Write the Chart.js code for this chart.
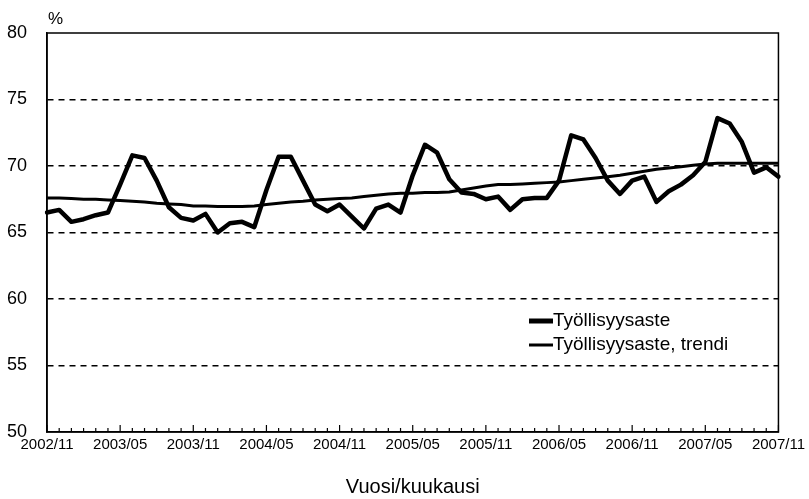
<!DOCTYPE html>
<html>
<head>
<meta charset="utf-8">
<script src="https://cdn.jsdelivr.net/npm/chart.js@4.4.0/dist/chart.umd.min.js"></script>
<style>
html,body{margin:0;padding:0;background:#fff;}
#wrap{width:809px;height:499px;position:relative;}
</style>
</head>
<body>
<div id="wrap"><canvas id="c" width="809" height="499"></canvas></div>
<script>
const months = [
"2002/11","2002/12",
"2003/01","2003/02","2003/03","2003/04","2003/05","2003/06","2003/07","2003/08","2003/09","2003/10","2003/11","2003/12",
"2004/01","2004/02","2004/03","2004/04","2004/05","2004/06","2004/07","2004/08","2004/09","2004/10","2004/11","2004/12",
"2005/01","2005/02","2005/03","2005/04","2005/05","2005/06","2005/07","2005/08","2005/09","2005/10","2005/11","2005/12",
"2006/01","2006/02","2006/03","2006/04","2006/05","2006/06","2006/07","2006/08","2006/09","2006/10","2006/11","2006/12",
"2007/01","2007/02","2007/03","2007/04","2007/05","2007/06","2007/07","2007/08","2007/09","2007/10","2007/11"
];
const employmentRate = [
66.5,66.7,
65.8,66.0,66.3,66.5,68.6,70.8,70.6,68.9,66.9,66.1,65.9,66.4,
65.0,65.7,65.8,65.4,68.2,70.7,70.7,68.9,67.1,66.6,67.1,66.2,
65.3,66.8,67.1,66.5,69.3,71.6,71.0,69.0,68.0,67.9,67.5,67.7,
66.7,67.5,67.6,67.6,68.9,72.3,72.0,70.6,68.9,67.9,68.9,69.2,
67.3,68.1,68.6,69.3,70.3,73.6,73.2,71.8,69.5,69.9,69.2
];
const employmentTrend = [
67.6,67.6,
67.55,67.5,67.5,67.45,67.4,67.35,67.3,67.2,67.15,67.1,67.0,67.0,
66.95,66.95,66.95,67.0,67.1,67.2,67.3,67.35,67.45,67.5,67.55,67.6,
67.7,67.8,67.9,67.95,67.95,68.0,68.0,68.05,68.2,68.35,68.5,68.6,
68.6,68.65,68.7,68.75,68.8,68.9,69.0,69.1,69.2,69.3,69.45,69.6,
69.75,69.85,69.95,70.05,70.15,70.2,70.2,70.2,70.2,70.2,70.2
];
const seriesNames = ["Työllisyysaste","Työllisyysaste, trendi"];
const yTicks = [50,55,60,65,70,75,80];
const labelEvery = 6;

const FONT = "'Liberation Sans', Arial, sans-serif";

const decor = {
  id:'decor',
  afterDraw(chart){
    const {ctx, chartArea:a, scales} = chart;
    const xs = scales.x;
    ctx.save();
    ctx.strokeStyle='#000';
    ctx.lineWidth=1.5;
    ctx.strokeRect(a.left, a.top, a.right-a.left, a.bottom-a.top);
    ctx.lineWidth=1.2;
    for(let i=0;i<months.length;i++){
      const x = xs.getPixelForValue(i);
      const len = (i%labelEvery===0)?7:4;
      ctx.beginPath();
      ctx.moveTo(x, a.bottom);
      ctx.lineTo(x, a.bottom-len);
      ctx.stroke();
    }
    ctx.fillStyle='#000';
    ctx.font = "17px "+FONT;
    ctx.textAlign='left';
    ctx.textBaseline='middle';
    ctx.fillText('%', 48, 19);
    const ds = chart.data.datasets;
    const lx = 529, ys=[321,345];
    ctx.font = "19px "+FONT;
    ds.forEach((d,k)=>{
      ctx.strokeStyle = d.borderColor;
      ctx.lineWidth = k===0?5:3;
      ctx.beginPath();
      ctx.moveTo(lx, ys[k]);
      ctx.lineTo(lx+24, ys[k]);
      ctx.stroke();
      ctx.fillText(d.label, lx+24, ys[k]);
    });
    ctx.restore();
  }
};

new Chart(document.getElementById('c'), {
  type:'line',
  data:{
    labels: months,
    datasets:[
      {label:seriesNames[0], data:employmentRate, borderColor:'#000', borderWidth:4.5, pointRadius:0, tension:0, fill:false, borderJoinStyle:'round', borderCapStyle:'round'},
      {label:seriesNames[1], data:employmentTrend, borderColor:'#000', borderWidth:3, pointRadius:0, tension:0, fill:false}
    ]
  },
  options:{
    responsive:false,
    animation:false,
    devicePixelRatio:1,
    layout:{padding:{left:0,right:30,top:33,bottom:0}},
    plugins:{legend:{display:false}, tooltip:{enabled:false}},
    scales:{
      x:{
        type:'category',
        offset:false,
        afterFit(s){ s.height = 67; },
        grid:{display:false, drawTicks:false},
        border:{display:true, color:'#000', width:1.5},
        ticks:{
          autoSkip:false, maxRotation:0, minRotation:0, padding:4,
          color:'#000', font:{family:FONT, size:15},
          callback(v,i){ return i%labelEvery===0 ? months[i] : ''; }
        },
        title:{display:true, text:'Vuosi/kuukausi', color:'#000', font:{family:FONT, size:20}, padding:{top:0,bottom:0}}
      },
      y:{
        min:50, max:80,
        afterFit(s){ s.width = 47; },
        afterBuildTicks(s){ s.ticks = yTicks.map(v=>({value:v})); },
        grid:{
          drawTicks:false,
          color(c){ const v=c.tick.value; return (v===50||v===80)?'rgba(0,0,0,0)':'#000'; },
          lineWidth:1.5
        },
        border:{display:true, color:'#000', width:1.5, dash:[6,5]},
        ticks:{padding:20, color:'#000', font:{family:FONT, size:18}}
      }
    }
  },
  plugins:[decor]
});
</script>
</body>
</html>
